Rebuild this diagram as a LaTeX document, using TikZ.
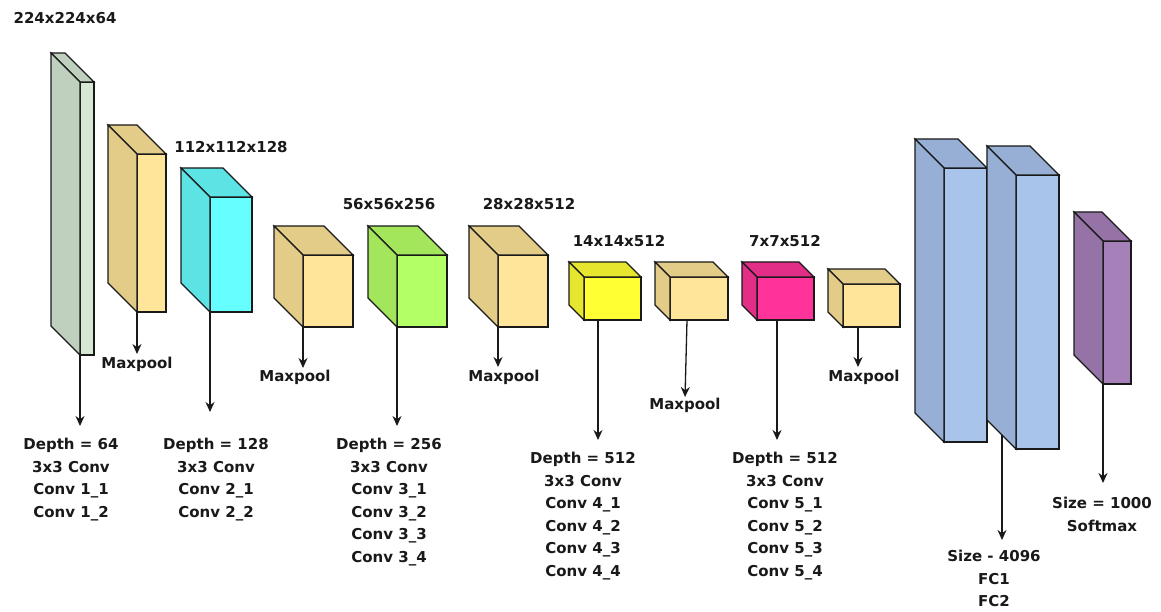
\documentclass[tikz,border=0pt]{standalone}
\usepackage{fontspec}
\setmainfont{DejaVu Sans}
\usepackage{xcolor}
\usetikzlibrary{calc,arrows.meta}
\definecolor{inputfront}{HTML}{D5E8D4}
\definecolor{inputside}{HTML}{BFD1BE}
\definecolor{poolfront}{HTML}{FFE599}
\definecolor{poolside}{HTML}{E3CC88}
\definecolor{cyanfront}{HTML}{66FFFF}
\definecolor{cyanside}{HTML}{5CE3E3}
\definecolor{limefront}{HTML}{B3FF66}
\definecolor{limeside}{HTML}{A3E65C}
\definecolor{yellowfront}{HTML}{FFFF33}
\definecolor{yellowside}{HTML}{E6E62E}
\definecolor{pinkfront}{HTML}{FF3399}
\definecolor{pinkside}{HTML}{E32E88}
\definecolor{fcfront}{HTML}{A9C4EB}
\definecolor{fcside}{HTML}{97AFD4}
\definecolor{softfront}{HTML}{A680B8}
\definecolor{softside}{HTML}{9673A6}
\newcommand{\cubesides}[3]{%
  \filldraw[face, fill=#3] (#1.north west) -- ++(-#2,-#2) -- ($(#1.north east)+(-#2,-#2)$) -- (#1.north east) -- cycle;
  \filldraw[face, fill=#3] (#1.north west) -- ++(-#2,-#2) -- ($(#1.south west)+(-#2,-#2)$) -- (#1.south west) -- cycle;}

\begin{document}
\begin{tikzpicture}[x=1pt, y=-1pt,
    face/.style={draw=black!90, line width=1.2pt},
    cube/.style={face, anchor=north west, inner sep=0pt, outer sep=0pt},
    dim/.style={font=\fontsize{15}{22.5}\selectfont\bfseries, text=black!90},
    info/.style={dim, align=center, anchor=north, inner sep=0pt},
    arr/.style={-{Stealth[length=10pt,width=9pt]}, line width=1.3pt, draw=black!90}
]
    \useasboundingbox (0,0) rectangle (1161,612);

    \node[cube, fill=inputfront, minimum width=14pt, minimum height=273pt] (conv1) at (80,82) {};
    \cubesides{conv1}{29}{inputside}
    \node[cube, fill=poolfront, minimum width=29pt, minimum height=158pt] (pool1) at (137,154) {};
    \cubesides{pool1}{29}{poolside}
    \node[cube, fill=cyanfront, minimum width=42pt, minimum height=115pt] (conv2) at (210,197) {};
    \cubesides{conv2}{29}{cyanside}
    \node[cube, fill=poolfront, minimum width=50pt, minimum height=72pt] (pool2) at (303,255) {};
    \cubesides{pool2}{29}{poolside}
    \node[cube, fill=limefront, minimum width=50pt, minimum height=72pt] (conv3) at (397,255) {};
    \cubesides{conv3}{29}{limeside}
    \node[cube, fill=poolfront, minimum width=50pt, minimum height=72pt] (pool3) at (498,255) {};
    \cubesides{pool3}{29}{poolside}
    \node[cube, fill=yellowfront, minimum width=57pt, minimum height=43pt] (conv4) at (584,277) {};
    \cubesides{conv4}{15}{yellowside}
    \node[cube, fill=poolfront, minimum width=58pt, minimum height=43pt] (pool4) at (670,277) {};
    \cubesides{pool4}{15}{poolside}
    \node[cube, fill=pinkfront, minimum width=57pt, minimum height=43pt] (conv5) at (757,277) {};
    \cubesides{conv5}{15}{pinkside}
    \node[cube, fill=poolfront, minimum width=57pt, minimum height=43pt] (pool5) at (843,284) {};
    \cubesides{pool5}{15}{poolside}
    \node[cube, fill=fcfront, minimum width=43pt, minimum height=274pt] (fc1) at (944,168) {};
    \cubesides{fc1}{29}{fcside}
    \node[cube, fill=fcfront, minimum width=43pt, minimum height=274pt] (fc2) at (1016,175) {};
    \cubesides{fc2}{29}{fcside}
    \node[cube, fill=softfront, minimum width=28pt, minimum height=143pt] (softmax) at (1103,241) {};
    \cubesides{softmax}{29}{softside}

    \node[dim] (size1) at (65,18) {224x224x64};
    \node[dim] (size2) at (231,147) {112x112x128};
    \node[dim] (size3) at (389,204) {56x56x256};
    \node[dim] (size4) at (529,204) {28x28x512};
    \node[dim] (size5) at (619,241) {14x14x512};
    \node[dim] (size6) at (785,241) {7x7x512};

    \node[info] (info1) at (71,438) {Depth = 64\\3x3 Conv\\Conv 1\_1\\Conv 1\_2};
    \node[info] (info2) at (216,438) {Depth = 128\\3x3 Conv\\Conv 2\_1\\Conv 2\_2};
    \node[info] (info3) at (389,438) {Depth = 256\\3x3 Conv\\Conv 3\_1\\Conv 3\_2\\Conv 3\_3\\Conv 3\_4};
    \node[info] (info4) at (583,452) {Depth = 512\\3x3 Conv\\Conv 4\_1\\Conv 4\_2\\Conv 4\_3\\Conv 4\_4};
    \node[info] (info5) at (785,452) {Depth = 512\\3x3 Conv\\Conv 5\_1\\Conv 5\_2\\Conv 5\_3\\Conv 5\_4};
    \node[info] (info6) at (994,550) {Size - 4096\\FC1\\FC2};
    \node[info] (info7) at (1102,497) {Size = 1000\\Softmax};

    \node[info] (mp1) at (137,357) {Maxpool};
    \node[info] (mp2) at (295,370) {Maxpool};
    \node[info] (mp3) at (504,370) {Maxpool};
    \node[info] (mp4) at (685,398) {Maxpool};
    \node[info] (mp5) at (864,370) {Maxpool};

    \coordinate (fcout) at ($(fc2.south west)+(-14,-14)$);

    \draw[arr, shorten >=12pt] (conv1.south west) -- (conv1.south west |- info1.north);
    \draw[arr, shorten >=3pt] (pool1.south west) -- (pool1.south west |- mp1.north);
    \draw[arr, shorten >=26pt] (conv2.south west) -- (conv2.south west |- info2.north);
    \draw[arr, shorten >=2pt] (pool2.south west) -- (pool2.south west |- mp2.north);
    \draw[arr, shorten >=12pt] (conv3.south west) -- (conv3.south west |- info3.north);
    \draw[arr, shorten >=3pt] (pool3.south west) -- (pool3.south west |- mp3.north);
    \draw[arr, shorten >=12pt] ([xshift=14pt]conv4.south west) -- ([xshift=14pt]conv4.south west |- info4.north);
    \draw[arr, shorten >=1pt] ([xshift=17pt]pool4.south west) -- (mp4.north);
    \draw[arr, shorten >=12pt] ([xshift=20pt]conv5.south west) -- ([xshift=20pt]conv5.south west |- info5.north);
    \draw[arr, shorten >=3pt] ([xshift=15pt]pool5.south west) -- ([xshift=15pt]pool5.south west |- mp5.north);
    \draw[arr, shorten >=10pt] (fcout) -- (fcout |- info6.north);
    \draw[arr, shorten >=14pt] (softmax.south west) -- (softmax.south west |- info7.north);
\end{tikzpicture}
\end{document}
